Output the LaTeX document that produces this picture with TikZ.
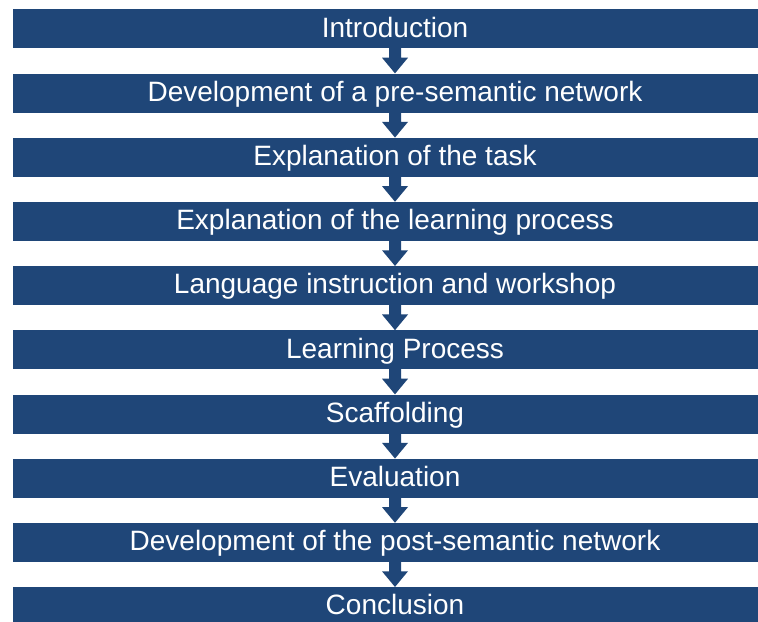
\documentclass[tikz,border=0pt]{standalone}
\usepackage{fontspec}
\setmainfont{Liberation Sans}
\usepackage{tikz}
\usetikzlibrary{positioning, calc}
\usepackage{xcolor}
\definecolor{FlowBlue}{HTML}{1F4678}
\definecolor{FlowWhite}{HTML}{ffffff}
\tikzset{
    % Node styles
    phasebox/.style={
        rectangle,
        fill=FlowBlue,
        draw=none,
        minimum width=573.75pt,
        minimum height=29.25pt,
        inner sep=0pt,
        text height=16pt,
        text depth=3.6pt,
        text=FlowWhite,
        text centered,
        font=\fontsize{21}{25}\selectfont
    },
    % Arrow styles
    flowarrow/.style={
        fill=FlowBlue,
        draw=none
    }
}

\begin{document}
\begin{tikzpicture}[node distance=18.5pt]
    \useasboundingbox[clip] (0,0) rectangle (568.5pt,466.5pt);
    \fill[FlowWhite] (0,0) rectangle (568.5pt,466.5pt);

    % Phases, top to bottom
    \node[phasebox] (intro) at (296.25pt,444.8pt) {Introduction};
    \node[phasebox, below=of intro] (presem) {Development of a pre-semantic network};
    \node[phasebox, below=of presem] (task) {Explanation of the task};
    \node[phasebox, below=of task] (learnexp) {Explanation of the learning process};
    \node[phasebox, below=of learnexp] (langinst) {Language instruction and workshop};
    \node[phasebox, below=of langinst] (learnproc) {Learning Process};
    \node[phasebox, below=of learnproc] (scaffold) {Scaffolding};
    \node[phasebox, below=of scaffold] (evaluation) {Evaluation};
    \node[phasebox, below=of evaluation] (postsem) {Development of the post-semantic network};
    \node[phasebox, below=of postsem] (conclusion) {Conclusion};

    % Block arrows between phases
    \foreach \a/\b in {intro/presem, presem/task, task/learnexp, learnexp/langinst,
                       langinst/learnproc, learnproc/scaffold, scaffold/evaluation,
                       evaluation/postsem, postsem/conclusion}
    {
        \fill[flowarrow] ($(\a.south)+(-4.5pt,0.5pt)$) -- ($(\a.south)+(4.5pt,0.5pt)$)
            -- ($(\a.south)+(4.5pt,-6.75pt)$) -- ($(\a.south)+(9.75pt,-6.75pt)$)
            -- (\b.north) -- ($(\a.south)+(-9.75pt,-6.75pt)$)
            -- ($(\a.south)+(-4.5pt,-6.75pt)$) -- cycle;
    }
\end{tikzpicture}
\end{document}
